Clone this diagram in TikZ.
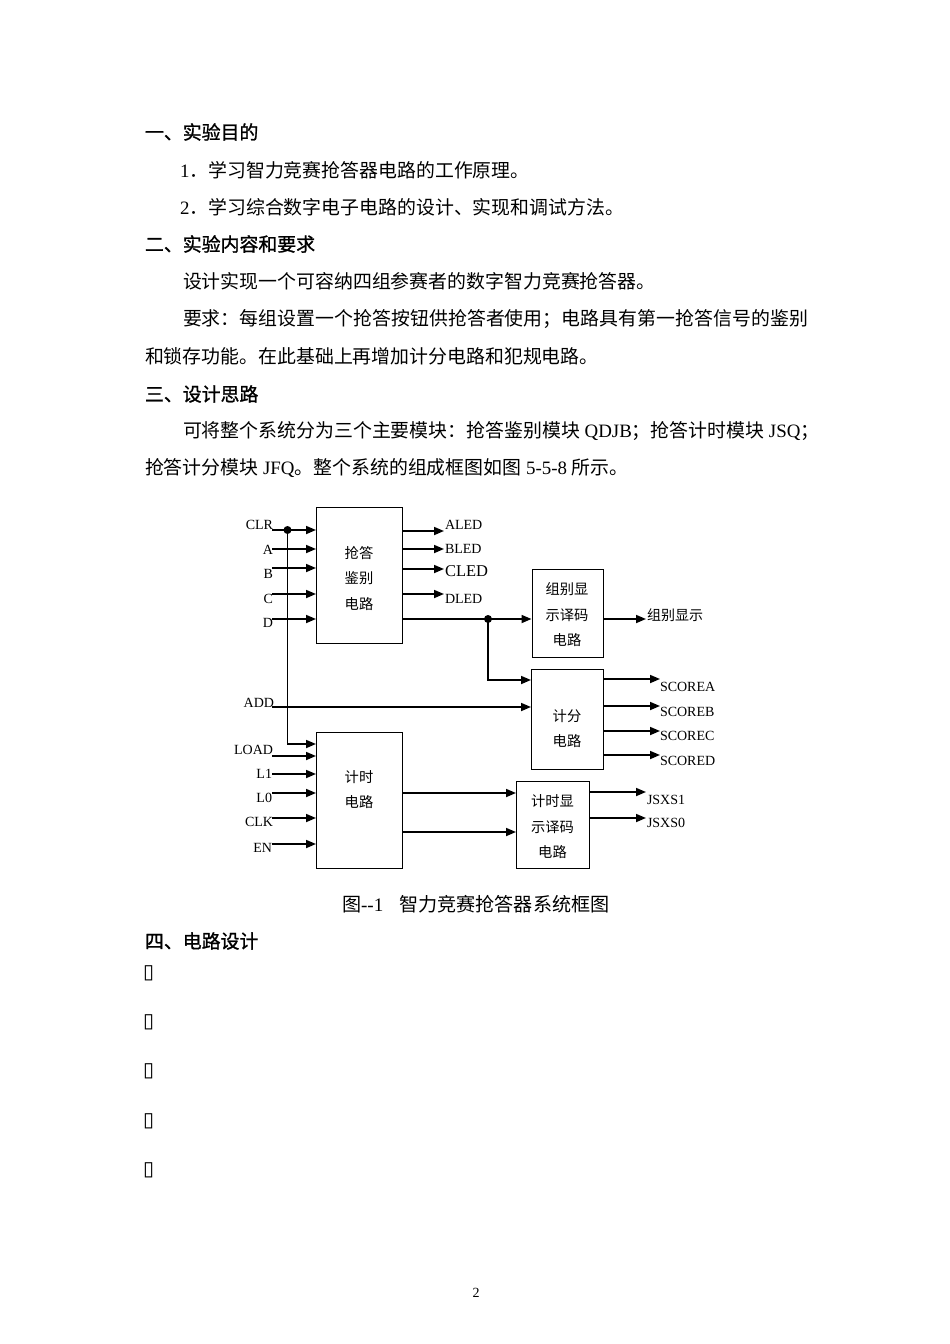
\documentclass[tikz,border=0pt]{standalone}
\usepackage{fontspec}
\setmainfont{Liberation Serif}
\newfontfamily\cjk{Noto Sans CJK SC}
\newfontfamily\cjkh{Noto Sans CJK SC}[FakeBold=1.2]
\newfontfamily\symf{DejaVu Sans}
\usetikzlibrary{arrows.meta}
\newcommand\spreadchars[1]{\spreadA#1\relax}
\def\spreadA#1{\ifx\relax#1\else #1\hfil\expandafter\spreadA\fi}
\begin{document}
\begin{tikzpicture}[x=1pt,y=-1pt,
  txt/.style={anchor=west,inner sep=0pt,outer sep=0pt},
  bodyf/.style={font=\fontsize{18.9}{22}\selectfont},
  headf/.style={font=\fontsize{18.9}{22}\selectfont\cjkh},
  lab/.style={inner sep=0pt,outer sep=0pt,font=\fontsize{14}{16}\selectfont},
  btxt/.style={inner sep=0pt,align=center,font=\fontsize{14.3}{25.5}\selectfont\cjk},
  blk/.style={draw,line width=0.9pt,anchor=north west,inner sep=0pt},
  sig/.style={line width=1.7pt,-{Triangle[length=10pt,width=8pt]}},
  tofu/.style={anchor=west,inner sep=0pt,font=\fontsize{20}{22}\selectfont\symf}
]
\fill[white] (0,0) rectangle (950,1344);
\useasboundingbox (0,0) rectangle (950,1344);

% ---------- text ----------
\node[txt,headf] (h1) at (145,132) {一、实验目的};
\node[txt,bodyf] (p1) at (180,170) {1{\cjk ．学习智力竞赛抢答器电路的工作原理。}};
\node[txt,bodyf] (p2) at (180,207) {2{\cjk ．学习综合数字电子电路的设计、实现和调试方法。}};
\node[txt,headf] (h2) at (145,244) {二、实验内容和要求};
\node[txt,bodyf] (p3) at (183,281) {\cjk 设计实现一个可容纳四组参赛者的数字智力竞赛抢答器。};
\node[txt,bodyf] (p4) at (183,319) {\cjk\makebox[625pt][s]{\spreadchars{要求：每组设置一个抢答按钮供抢答者使用；电路具有第一抢答信号的鉴别}\unskip}};
\node[txt,bodyf] (p5) at (145,356) {\cjk 和锁存功能。在此基础上再增加计分电路和犯规电路。};
\node[txt,headf] (h3) at (145,394) {三、设计思路};
\node[txt,bodyf] (p6) at (183,431) {{\cjk 可将整个系统分为三个主要模块：抢答鉴别模块} QDJB{\cjk ；抢答计时模块} JSQ{\cjk ；}};
\node[txt,bodyf] (p7) at (145,468) {{\cjk 抢答计分模块} JFQ{\cjk 。整个系统的组成框图如图} 5-5-8 {\cjk 所示。}};
\node[txt,font=\fontsize{19.1}{22}\selectfont] (cap) at (342,904) {{\cjk 图}-{}-1\hspace{16pt}{\cjk 智力竞赛抢答器系统框图}};
\node[txt,headf] (h4) at (145,941) {四、电路设计};
\node[tofu] (q1) at (143,973) {▯};
\node[tofu] (q2) at (143,1022) {▯};
\node[tofu] (q3) at (143,1071) {▯};
\node[tofu] (q4) at (143,1121) {▯};
\node[tofu] (q5) at (143,1170) {▯};
\node[lab] (pg) at (476,1293) {2};

% ---------- blocks ----------
\node[blk,minimum width=86pt,minimum height=136pt] (qd) at (316,507) {};
\node[blk,minimum width=71pt,minimum height=88pt,line width=1.3pt] (grp) at (531.5,568.5) {};
\node[blk,minimum width=72pt,minimum height=100pt] (sc) at (531,669) {};
\node[blk,minimum width=86pt,minimum height=136pt] (tm) at (316,732) {};
\node[blk,minimum width=73pt,minimum height=87pt,line width=1.3pt] (jd) at (516,781) {};

\node[btxt] (tqd) at (359,578) {抢答\\鉴别\\电路};
\node[btxt] (tgrp) at (567,615) {组别显\\示译码\\电路};
\node[btxt] (tsc) at (567,728.5) {计分\\电路};
\node[btxt] (ttm) at (359,789.5) {计时\\电路};
\node[btxt] (tjd) at (552.5,827) {计时显\\示译码\\电路};

% ---------- left labels ----------
\node[lab,anchor=east] (lCLR) at (273,525) {CLR};
\node[lab,anchor=east] (lA) at (273,550) {A};
\node[lab,anchor=east] (lB) at (273,574) {B};
\node[lab,anchor=east] (lC) at (273,599) {C};
\node[lab,anchor=east] (lD) at (273,623) {D};
\node[lab,anchor=east] (lADD) at (274,703) {ADD};
\node[lab,anchor=east] (lLOAD) at (273,750) {LOAD};
\node[lab,anchor=east] (lL1) at (272,774) {L1};
\node[lab,anchor=east] (lL0) at (272,798) {L0};
\node[lab,anchor=east] (lCLK) at (273,822) {CLK};
\node[lab,anchor=east] (lEN) at (272,848) {EN};

\coordinate (iCLR) at (272,530);
\coordinate (iA) at (272,549);
\coordinate (iB) at (272,568);
\coordinate (iC) at (272,594);
\coordinate (iD) at (272,619);
\coordinate (iADD) at (272,707);
\coordinate (iLOAD) at (272,756);
\coordinate (iL1) at (272,774);
\coordinate (iL0) at (272,793);
\coordinate (iCLK) at (272,818);
\coordinate (iEN) at (272,844);

\draw[sig] (iCLR) -- (iCLR -| qd.west);
\draw[sig] (iA) -- (iA -| qd.west);
\draw[sig] (iB) -- (iB -| qd.west);
\draw[sig] (iC) -- (iC -| qd.west);
\draw[sig] (iD) -- (iD -| qd.west);
\coordinate (dclr) at (287.5,530);
\coordinate (bclr) at (287.5,744);
\draw[sig] (dclr) -- (bclr) -- (bclr -| tm.west);
\fill (dclr) circle (4);
\draw[sig] (iADD) -- (iADD -| sc.west);
\draw[sig] (iLOAD) -- (iLOAD -| tm.west);
\draw[sig] (iL1) -- (iL1 -| tm.west);
\draw[sig] (iL0) -- (iL0 -| tm.west);
\draw[sig] (iCLK) -- (iCLK -| tm.west);
\draw[sig] (iEN) -- (iEN -| tm.west);

% ---------- outputs of qd ----------
\node[lab,anchor=west] (lALED) at (445,525) {ALED};
\node[lab,anchor=west] (lBLED) at (445,549) {BLED};
\node[lab,anchor=west,font=\fontsize{16.5}{18}\selectfont] (lCLED) at (445,571) {CLED};
\node[lab,anchor=west] (lDLED) at (445,599) {DLED};
\coordinate (oA) at (444,531);
\coordinate (oB) at (444,549);
\coordinate (oC) at (444,569);
\coordinate (oD) at (444,594);
\draw[sig] (qd.east |- oA) -- (oA);
\draw[sig] (qd.east |- oB) -- (oB);
\draw[sig] (qd.east |- oC) -- (oC);
\draw[sig] (qd.east |- oD) -- (oD);

\coordinate (dout) at (488,619);
\coordinate (bout) at (488,680);
\draw[sig] (qd.east |- dout) -- (dout -| grp.west);
\draw[sig] (dout) -- (bout) -- (bout -| sc.west);
\fill (dout) circle (4);

\node[lab,anchor=west,font=\fontsize{14}{16}\selectfont\cjk] (lgrp) at (647,615) {组别显示};
\coordinate (og) at (646,619);
\draw[sig] (grp.east |- og) -- (og);

% ---------- score outputs ----------
\node[lab,anchor=west] (lSA) at (660,687) {SCOREA};
\node[lab,anchor=west] (lSB) at (660,712) {SCOREB};
\node[lab,anchor=west] (lSC) at (660,736) {SCOREC};
\node[lab,anchor=west] (lSD) at (660,761) {SCORED};
\coordinate (sA) at (660,679);
\coordinate (sB) at (660,706);
\coordinate (sC) at (660,731);
\coordinate (sD) at (660,755);
\draw[sig] (sc.east |- sA) -- (sA);
\draw[sig] (sc.east |- sB) -- (sB);
\draw[sig] (sc.east |- sC) -- (sC);
\draw[sig] (sc.east |- sD) -- (sD);

% ---------- timer outputs ----------
\coordinate (t1) at (400,793);
\coordinate (t2) at (400,832);
\draw[sig] (tm.east |- t1) -- (t1 -| jd.west);
\draw[sig] (tm.east |- t2) -- (t2 -| jd.west);

\node[lab,anchor=west] (lJ1) at (647,800) {JSXS1};
\node[lab,anchor=west] (lJ0) at (647,823) {JSXS0};
\coordinate (j1) at (646,792);
\coordinate (j0) at (646,818);
\draw[sig] (jd.east |- j1) -- (j1);
\draw[sig] (jd.east |- j0) -- (j0);
\end{tikzpicture}
\end{document}
